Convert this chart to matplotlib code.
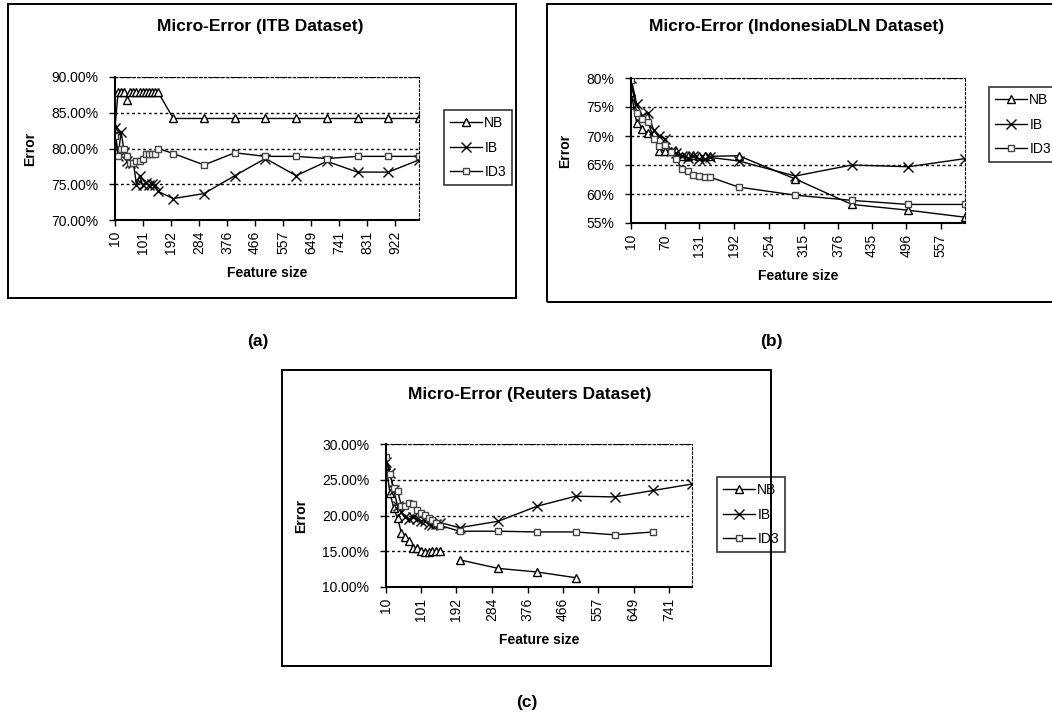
import numpy as np
import matplotlib
matplotlib.use('Agg')
import matplotlib.pyplot as plt
from matplotlib.patches import Rectangle

plt.rcParams['font.family'] = ['Liberation Sans', 'DejaVu Sans']

# feature sizes used in every panel
sizes = [10, 20, 30, 40, 50, 60, 70, 80, 90, 100, 110, 120, 130, 140, 150,
         200, 300, 400, 500, 600, 700, 800, 900, 1000]

# (a) ITB dataset, error in %
itb_nb = [82.9, 87.9, 87.9, 87.9, 86.8, 87.9, 87.9, 87.9, 87.9, 87.9, 87.9, 87.9, 87.9, 87.9, 87.9,
          84.2, 84.2, 84.2, 84.2, 84.2, 84.2, 84.2, 84.2, 84.2]
itb_ib = [82.9, 79.0, 82.3, 79.5, 78.2, 78.0, 78.0, 74.9, 76.2, 74.9, 75.2, 74.9, 75.1, 74.9, 74.0,
          73.0, 73.7, 76.2, 78.6, 76.2, 78.2, 76.7, 76.7, 78.4]
itb_id3 = [81.8, 79.0, 80.0, 80.0, 79.0, 78.0, 78.0, 78.3, 78.3, 78.5, 79.2, 79.2, 79.2, 79.2, 80.0,
           79.3, 77.7, 79.4, 78.9, 78.9, 78.6, 78.9, 78.9, 78.9]
itb_ticks = [10, 101, 192, 284, 376, 466, 557, 649, 741, 831, 922]

# (b) IndonesiaDLN dataset (up to 600 features)
dln_nb = [77.6, 72.3, 71.2, 70.5, 70.5, 67.5, 67.5, 67.5, 67.5, 66.5, 66.5, 66.7, 66.5, 66.5, 66.5,
          66.6, 62.6, 58.2, 57.2, 56.0]
dln_ib = [80.0, 75.5, 73.5, 74.0, 71.0, 70.0, 69.5, 67.5, 67.0, 66.5, 66.2, 66.5, 66.0, 66.0, 66.3,
          65.7, 63.1, 65.0, 64.7, 66.1]
dln_id3 = [79.6, 74.0, 73.0, 72.5, 69.5, 68.3, 68.5, 67.3, 66.0, 64.3, 64.0, 63.2, 63.1, 62.9, 62.9,
           61.2, 59.8, 58.9, 58.2, 58.2]
dln_ticks = [10, 70, 131, 192, 254, 315, 376, 435, 496, 557]

# (c) Reuters dataset (up to 800 features), NaN = no value
reu_nb = [27.1, 23.2, 21.0, 19.6, 17.5, 17.0, 16.4, 15.5, 15.4, 15.0, 14.9, 14.9, 15.0, 15.1, 15.0,
          13.8, 12.6, 12.1, 11.3, np.nan, np.nan, np.nan]
reu_ib = [27.5, 26.0, 23.5, 21.3, 20.5, 19.8, 19.5, 19.8, 19.5, 19.3, 19.2, 18.8, 18.7, 18.8, 19.0,
          18.3, 19.2, 21.3, 22.7, 22.6, 23.5, 24.4]
reu_id3 = [28.2, 25.8, 23.8, 23.4, 21.3, 21.3, 21.8, 21.6, 20.8, 20.3, 20.1, 19.6, 19.4, 19.0, 18.6,
           17.8, 17.8, 17.7, 17.7, 17.3, 17.7, np.nan]
reu_ticks = [10, 101, 192, 284, 376, 466, 557, 649, 741]

W, H = 1052, 719
fig = plt.figure(figsize=(W / 100, H / 100), dpi=100)


def fx(px):
    return px / W


def fy(py):
    return 1 - py / H


def panel(box, rect, title, title_xy, legend_xy, x, series, ticks, xmax, ylim, yfmt):
    # outer frame of the panel
    fig.patches.append(Rectangle((fx(box[0]), fy(box[3])), fx(box[2] - box[0]), (box[3] - box[1]) / H,
                                 transform=fig.transFigure, fill=False, lw=1.4, ec='black'))
    l, t, r, b = rect
    ax = fig.add_axes([fx(l), fy(b), fx(r - l), (b - t) / H])
    styles = [('NB', '^', 6, 'black'), ('IB', 'x', 6.5, 'black'), ('ID3', 's', 4.5, '#444444')]
    x = np.array(x[:len(series[0])], dtype=float)
    for (name, m, ms, ec), y in zip(styles, series):
        y = np.array(y, dtype=float)
        if name == 'NB' and np.isnan(y).any():
            # the NB line in (c) breaks between 150 and 200
            lo = x <= 150
            ax.plot(x[lo], y[lo], color='black', lw=1, marker=m, ms=ms, mfc='white', mec=ec, mew=1)
            ax.plot(x[~lo], y[~lo], color='black', lw=1, marker=m, ms=ms, mfc='white', mec=ec, mew=1,
                    label=name)
        else:
            ax.plot(x, y, color='black', lw=1, marker=m, ms=ms, mfc='white', mec=ec, mew=1, label=name)
    ax.set_xlim(10, xmax)
    ax.set_ylim(*ylim)
    yt = np.arange(ylim[0], ylim[1] + 0.1, 5)
    ax.set_yticks(yt)
    ax.set_yticklabels([yfmt % v for v in yt], fontsize=10)
    ax.set_xticks(ticks)
    ax.set_xticklabels([str(v) for v in ticks], rotation=90, fontsize=10)
    for v in yt[1:]:
        ax.axhline(v, color='black', ls=(0, (2, 2)), lw=1, zorder=0)
    ax.spines['top'].set_linestyle((0, (2, 2)))
    ax.spines['right'].set_linestyle((0, (2, 2)))
    ax.spines['left'].set_linewidth(1.5)
    ax.spines['bottom'].set_linewidth(1.5)
    ax.tick_params(axis='y', length=4, width=1, pad=8)
    ax.tick_params(axis='x', length=4, width=1, pad=4)
    ax.set_xlabel('Feature size', fontsize=10, fontweight='bold', labelpad=8)
    ax.set_ylabel('Error', fontsize=10, fontweight='bold', labelpad=10)
    fig.text(fx(title_xy[0]), fy(title_xy[1]), title, fontsize=12.5, fontweight='bold',
             ha='center', va='center')
    leg = ax.legend(loc='upper left', bbox_to_anchor=(fx(legend_xy[0]), fy(legend_xy[1])),
                    bbox_transform=fig.transFigure, fontsize=10, frameon=True, fancybox=False,
                    handlelength=2.3, handletextpad=0.15, borderpad=0.45, labelspacing=0.75,
                    borderaxespad=0)
    leg.get_frame().set_edgecolor('black')
    leg.get_frame().set_linewidth(1.2)
    return ax


panel((8, 4, 516, 298), (115, 77, 419, 220), 'Micro-Error (ITB Dataset)', (260, 27), (444, 110),
      sizes, [itb_nb, itb_ib, itb_id3], itb_ticks, 1000, (70, 90), '%.2f%%')
panel((547, 4, 1060, 302), (631, 78, 965, 223), 'Micro-Error (IndonesiaDLN Dataset)', (797, 27),
      (989, 87), sizes, [dln_nb, dln_ib, dln_id3], dln_ticks, 600, (55, 80), '%d%%')
panel((282, 370, 771, 666), (386, 444, 692, 587), 'Micro-Error (Reuters Dataset)', (530, 394),
      (717, 477), sizes, [reu_nb, reu_ib, reu_id3], reu_ticks, 800, (10, 30), '%.2f%%')

for lab, (px, py) in [('(a)', (258, 341)), ('(b)', (771, 341)), ('(c)', (527, 703))]:
    fig.text(fx(px), fy(py), lab, fontsize=12.5, fontweight='bold', ha='center', va='center')

fig.savefig('out.png', dpi=100)
